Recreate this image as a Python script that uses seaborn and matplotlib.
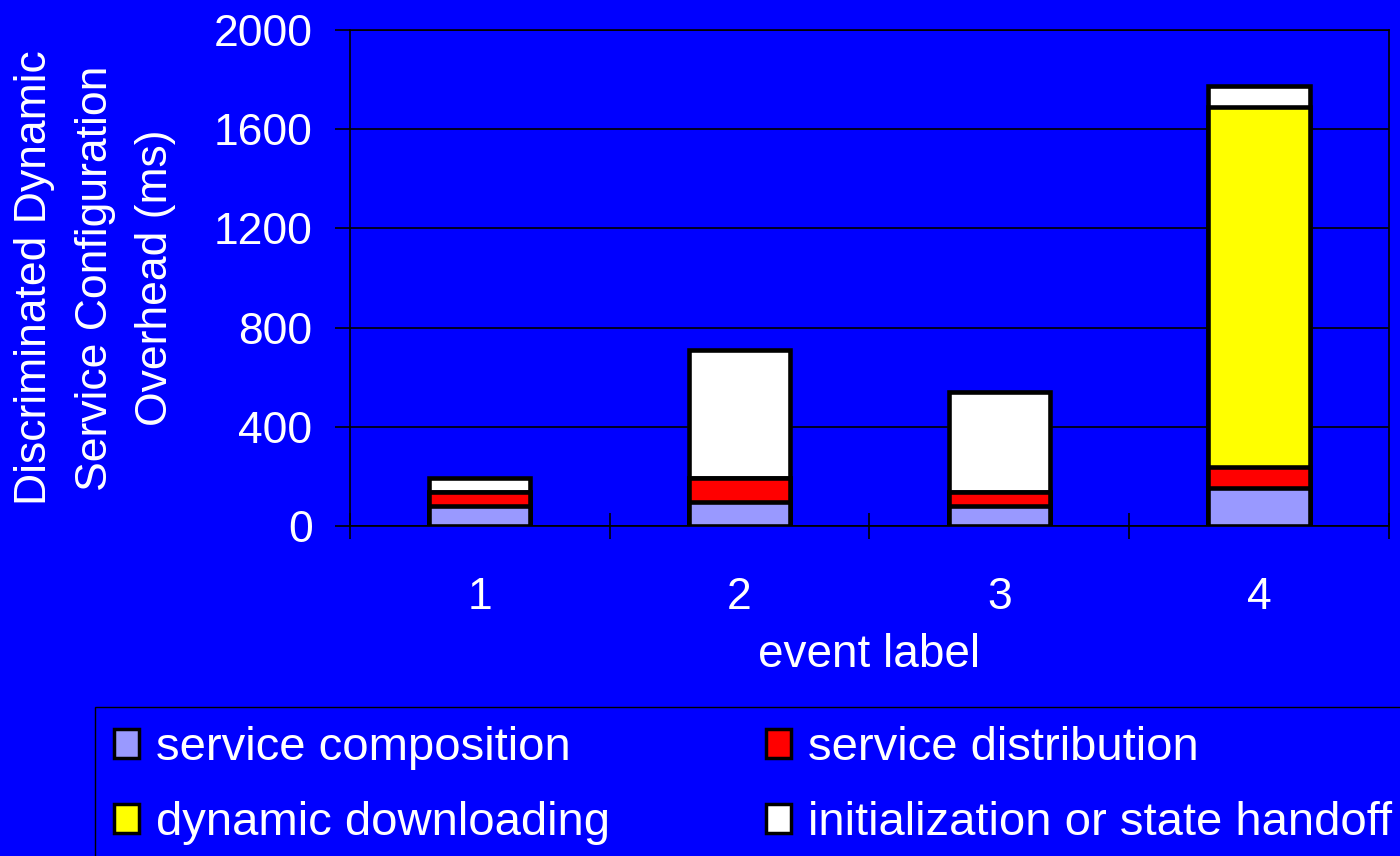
import matplotlib
matplotlib.use("Agg")
import matplotlib.pyplot as plt
import seaborn as sns
import numpy as np
import pandas as pd
from matplotlib.patches import Patch
from matplotlib.ticker import FixedLocator

# ---- data ----
events = ["1", "2", "3", "4"]
service_composition = [82, 97, 82, 152]
service_distribution = [57, 96, 55, 85]
dynamic_downloading = [0, 0, 0, 1453]
init_state_handoff = [56, 516, 403, 85]
series_names = ["service composition", "service distribution",
                "dynamic downloading", "initialization or state handoff"]
series_colors = ["#9999FF", "#FF0000", "#FFFF00", "#FFFFFF"]
y_ticks = [0, 400, 800, 1200, 1600, 2000]
x_label = "event label"
y_label = "Discriminated Dynamic\nService Configuration\nOverhead (ms)"

sns.set_theme(style="white")
plt.rcParams["font.family"] = ["Liberation Sans", "DejaVu Sans"]

BG = "#0000FF"
fig = plt.figure(figsize=(14, 8.56), dpi=100, facecolor=BG)
ax = fig.add_axes([0.25, 0.3855, 0.742, 0.5795])
ax.set_facecolor(BG)
ax.set_axisbelow(True)

layers = [service_composition, service_distribution, dynamic_downloading, init_state_handoff]
cum = np.cumsum(np.array(layers, dtype=float), axis=0)
for i in range(len(layers) - 1, -1, -1):
    df = pd.DataFrame({"event": events, "value": cum[i]})
    sns.barplot(data=df, x="event", y="value", order=events, color=series_colors[i],
                saturation=1, width=0.39, edgecolor="black", linewidth=3.3, ax=ax,
                errorbar=None)

ax.set_xlim(-0.5, 3.5)
ax.set_ylim(0, 2000)
ax.set_yticks(y_ticks)
ax.set_yticklabels([str(t) for t in y_ticks])
ax.xaxis.set_minor_locator(FixedLocator([-0.5, 0.5, 1.5, 2.5, 3.5]))
ax.tick_params(axis="x", which="major", bottom=True, length=0, pad=37,
               labelsize=32, labelcolor="white")
ax.tick_params(axis="x", which="minor", bottom=True, length=19.4, direction="inout",
               width=1.2, color="black")
ax.tick_params(axis="y", which="major", left=True, length=11, direction="out",
               width=1.2, color="black", pad=16, labelsize=32, labelcolor="white")

ax.yaxis.grid(True, color="black", linewidth=1.2)
ax.xaxis.grid(False)
for s in ax.spines.values():
    s.set_visible(True)
    s.set_color("black")
    s.set_linewidth(1.2)

ax.set_xlabel(x_label, fontsize=33, color="white")
ax.xaxis.set_label_coords(0.5, -0.215)
ax.set_ylabel(y_label, fontsize=32, color="white", linespacing=1.6,
              multialignment="center")
ax.yaxis.label.set_va("center")
ax.yaxis.set_label_coords(-0.2454, 0.5)

order = [0, 2, 1, 3]
handles = [Patch(facecolor=series_colors[k], edgecolor="black", linewidth=2.5) for k in order]
labels = [series_names[k] for k in order]
leg = fig.legend(handles, labels, loc="upper left",
                 bbox_to_anchor=(95 / 1400, 1 - 707 / 856), bbox_transform=fig.transFigure,
                 ncol=2, fontsize=34, frameon=True, facecolor=BG, edgecolor="black",
                 framealpha=1, fancybox=False, borderpad=0.4, borderaxespad=0,
                 handlelength=0.53, handleheight=0.57, handletextpad=0.36,
                 columnspacing=3.3, labelspacing=0.66, labelcolor="white")
leg.get_frame().set_linewidth(1)

fig.savefig("out.png", dpi=100, facecolor=BG)
